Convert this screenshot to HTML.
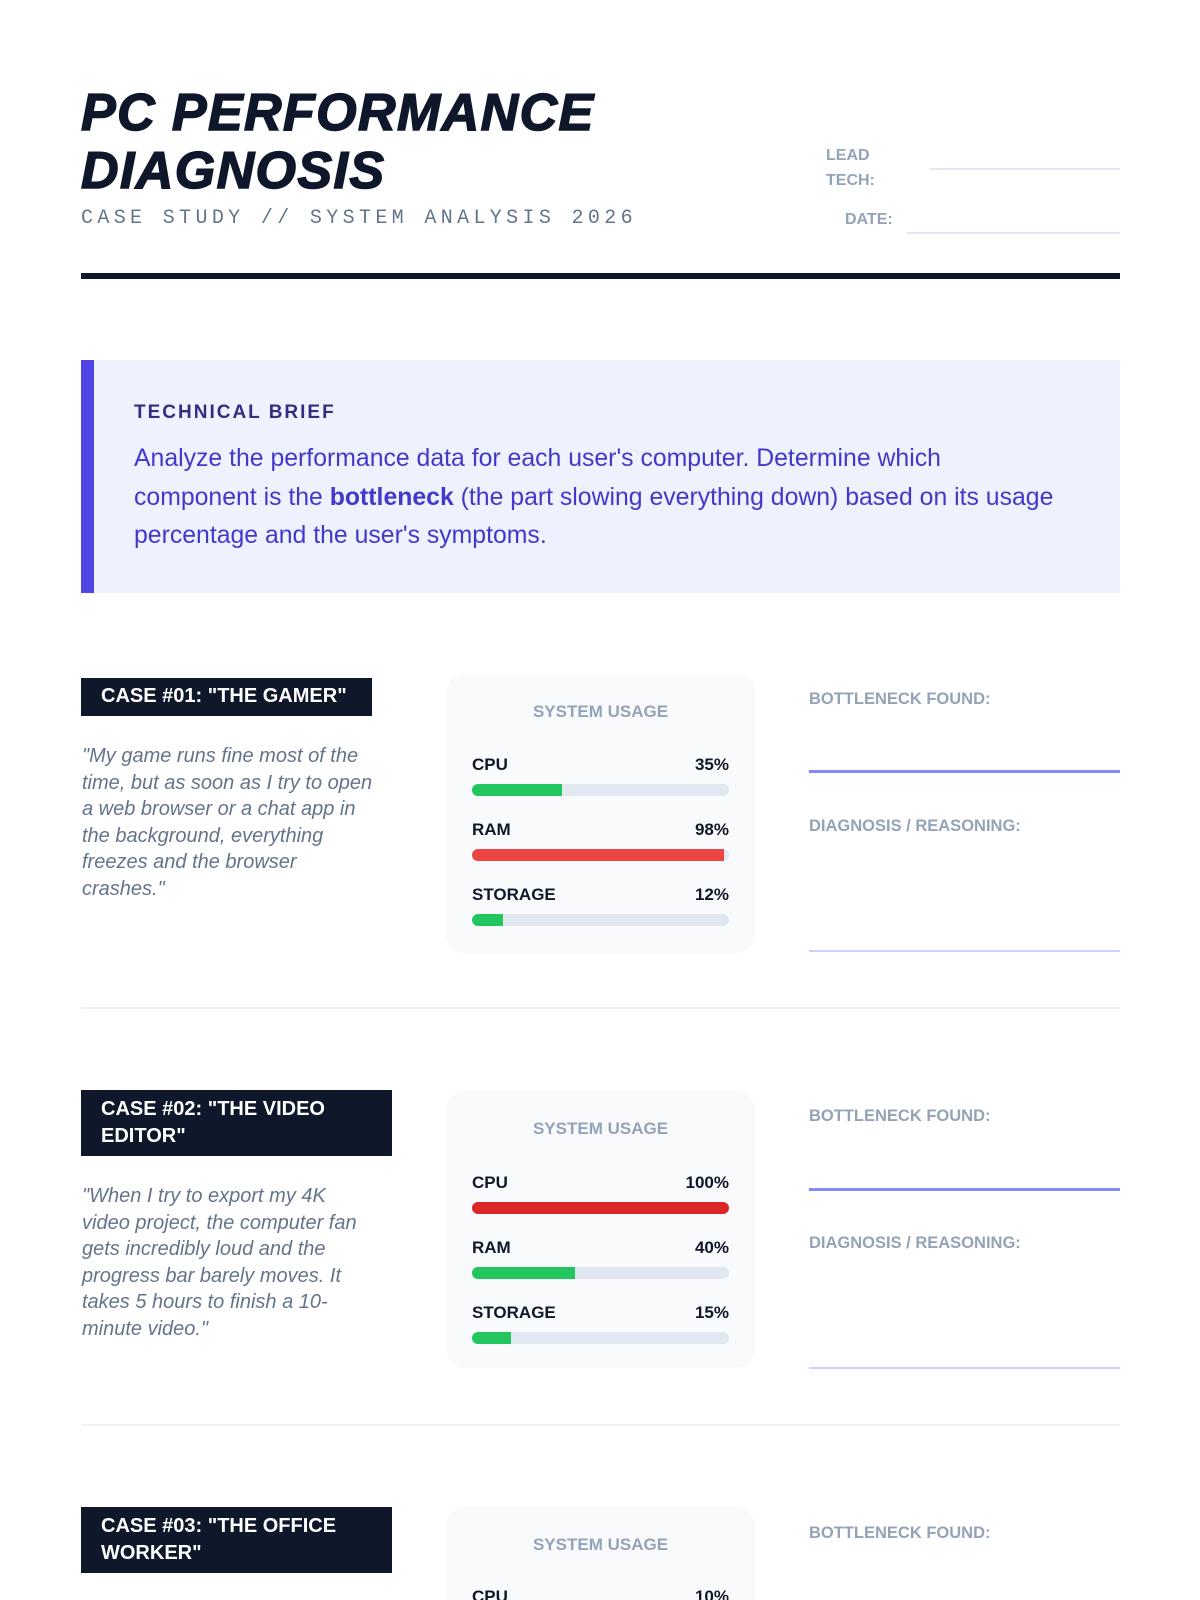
<!DOCTYPE html>
<html><head><meta charset="utf-8">
<style>
*{margin:0;padding:0;box-sizing:border-box}
html{width:1200px;height:1600px;overflow:hidden}
body{width:1200px;height:1600px;background:#fff;position:relative;overflow:hidden;font-family:"Liberation Sans",sans-serif}
.a{position:absolute}
.title{left:81px;top:84px;font-size:52px;line-height:58px;font-weight:900;font-style:italic;color:#0f172a;letter-spacing:1.4px;-webkit-text-stroke:1.5px #0f172a;white-space:nowrap}
.sub{left:81px;top:207px;font-family:"Liberation Mono",monospace;font-size:20px;letter-spacing:4.35px;color:#64748b;white-space:nowrap}
.meta{font-size:16px;font-weight:bold;color:#94a3b8;line-height:25px}
.ln{height:2px;background:#e2e8f0}
.rule{left:81px;top:273px;width:1039px;height:6px;background:#0f172a}
.brief{left:81px;top:360px;width:1039px;height:233px;background:#eef2ff;border-left:13px solid #4f46e5}
.bt{left:134px;top:402px;font-size:19px;font-weight:bold;letter-spacing:2px;color:#312e81}
.bp{left:134px;top:440px;width:980px;font-size:24.8px;line-height:38.5px;color:#4338ca;white-space:nowrap}
.lab{background:#0f172a;color:#fff;font-weight:bold;font-size:20px;line-height:27px;padding:6px 20px;width:311px;left:81px}
.q{left:82px;width:330px;font-style:italic;font-size:20px;line-height:26.6px;color:#64748b;white-space:nowrap}
.box{left:446px;width:309px;background:#f8fafc;border-radius:20px}
.su{position:absolute;left:0;width:100%;text-align:center;font-size:17px;font-weight:bold;color:#94a3b8}
.row{position:absolute;left:26px;width:257px;font-size:17px;font-weight:bold;color:#0f172a}
.row span{float:right}
.tr{position:absolute;left:26px;width:257px;height:12px;border-radius:6px;background:#e2e8f0;overflow:hidden}
.tr i{display:block;height:100%}
.rl{left:809px;font-size:16.5px;font-weight:bold;color:#94a3b8}
.l1{left:809px;width:311px;height:3px;background:#818cf8}
.l2{left:809px;width:311px;height:2px;background:#c7d2fe}
.sep{left:81px;width:1039px;height:2px;background:#eef1f6}
</style></head><body>
<div class="a title">PC PERFORMANCE<br>DIAGNOSIS</div>
<div class="a sub">CASE STUDY // SYSTEM ANALYSIS 2026</div>
<div class="a meta" style="left:826px;top:143px">LEAD<br>TECH:</div>
<div class="a ln" style="left:930px;top:168px;width:190px"></div>
<div class="a meta" style="left:845px;top:207px">DATE:</div>
<div class="a ln" style="left:907px;top:232px;width:213px"></div>
<div class="a rule"></div>

<div class="a brief"></div>
<div class="a bt">TECHNICAL BRIEF</div>
<div class="a bp">Analyze the performance data for each user's computer. Determine which<br>component is the <b>bottleneck</b> (the part slowing everything down) based on its usage<br>percentage and the user's symptoms.</div>

<!-- case 1 -->
<div class="a lab" style="top:678px;padding-top:5px;padding-bottom:6px;width:291px">CASE #01: "THE GAMER"</div>
<div class="a q" style="top:743px">"My game runs fine most of the<br>time, but as soon as I try to open<br>a web browser or a chat app in<br>the background, everything<br>freezes and the browser<br>crashes."</div>
<div class="a box" style="top:673px;height:281px">
<div class="su" style="top:29px">SYSTEM USAGE</div>
<div class="row" style="top:82px">CPU<span>35%</span></div>
<div class="tr" style="top:111px"><i style="width:35%;background:#22c55e"></i></div>
<div class="row" style="top:147px">RAM<span>98%</span></div>
<div class="tr" style="top:176px"><i style="width:98%;background:#ef4444"></i></div>
<div class="row" style="top:212px">STORAGE<span>12%</span></div>
<div class="tr" style="top:241px"><i style="width:12%;background:#22c55e"></i></div>
</div>
<div class="a rl" style="top:690px">BOTTLENECK FOUND:</div>
<div class="a l1" style="top:770px"></div>
<div class="a rl" style="top:817px">DIAGNOSIS / REASONING:</div>
<div class="a l2" style="top:950px"></div>
<div class="a sep" style="top:1007px"></div>

<!-- case 2 -->
<div class="a lab" style="top:1090px">CASE #02: "THE VIDEO<br>EDITOR"</div>
<div class="a q" style="top:1183px">"When I try to export my 4K<br>video project, the computer fan<br>gets incredibly loud and the<br>progress bar barely moves. It<br>takes 5 hours to finish a 10-<br>minute video."</div>
<div class="a box" style="top:1091px;height:277px">
<div class="su" style="top:28px">SYSTEM USAGE</div>
<div class="row" style="top:82px">CPU<span>100%</span></div>
<div class="tr" style="top:111px"><i style="width:100%;background:#dc2626"></i></div>
<div class="row" style="top:147px">RAM<span>40%</span></div>
<div class="tr" style="top:176px"><i style="width:40%;background:#22c55e"></i></div>
<div class="row" style="top:212px">STORAGE<span>15%</span></div>
<div class="tr" style="top:241px"><i style="width:15%;background:#22c55e"></i></div>
</div>
<div class="a rl" style="top:1107px">BOTTLENECK FOUND:</div>
<div class="a l1" style="top:1188px"></div>
<div class="a rl" style="top:1234px">DIAGNOSIS / REASONING:</div>
<div class="a l2" style="top:1367px"></div>
<div class="a sep" style="top:1424px"></div>

<!-- case 3 -->
<div class="a lab" style="top:1507px">CASE #03: "THE OFFICE<br>WORKER"</div>
<div class="a box" style="top:1507px;height:93px;border-radius:20px 20px 0 0">
<div class="su" style="top:28px">SYSTEM USAGE</div>
<div class="row" style="top:80px">CPU<span>10%</span></div>
</div>
<div class="a rl" style="top:1524px">BOTTLENECK FOUND:</div>
</body></html>
